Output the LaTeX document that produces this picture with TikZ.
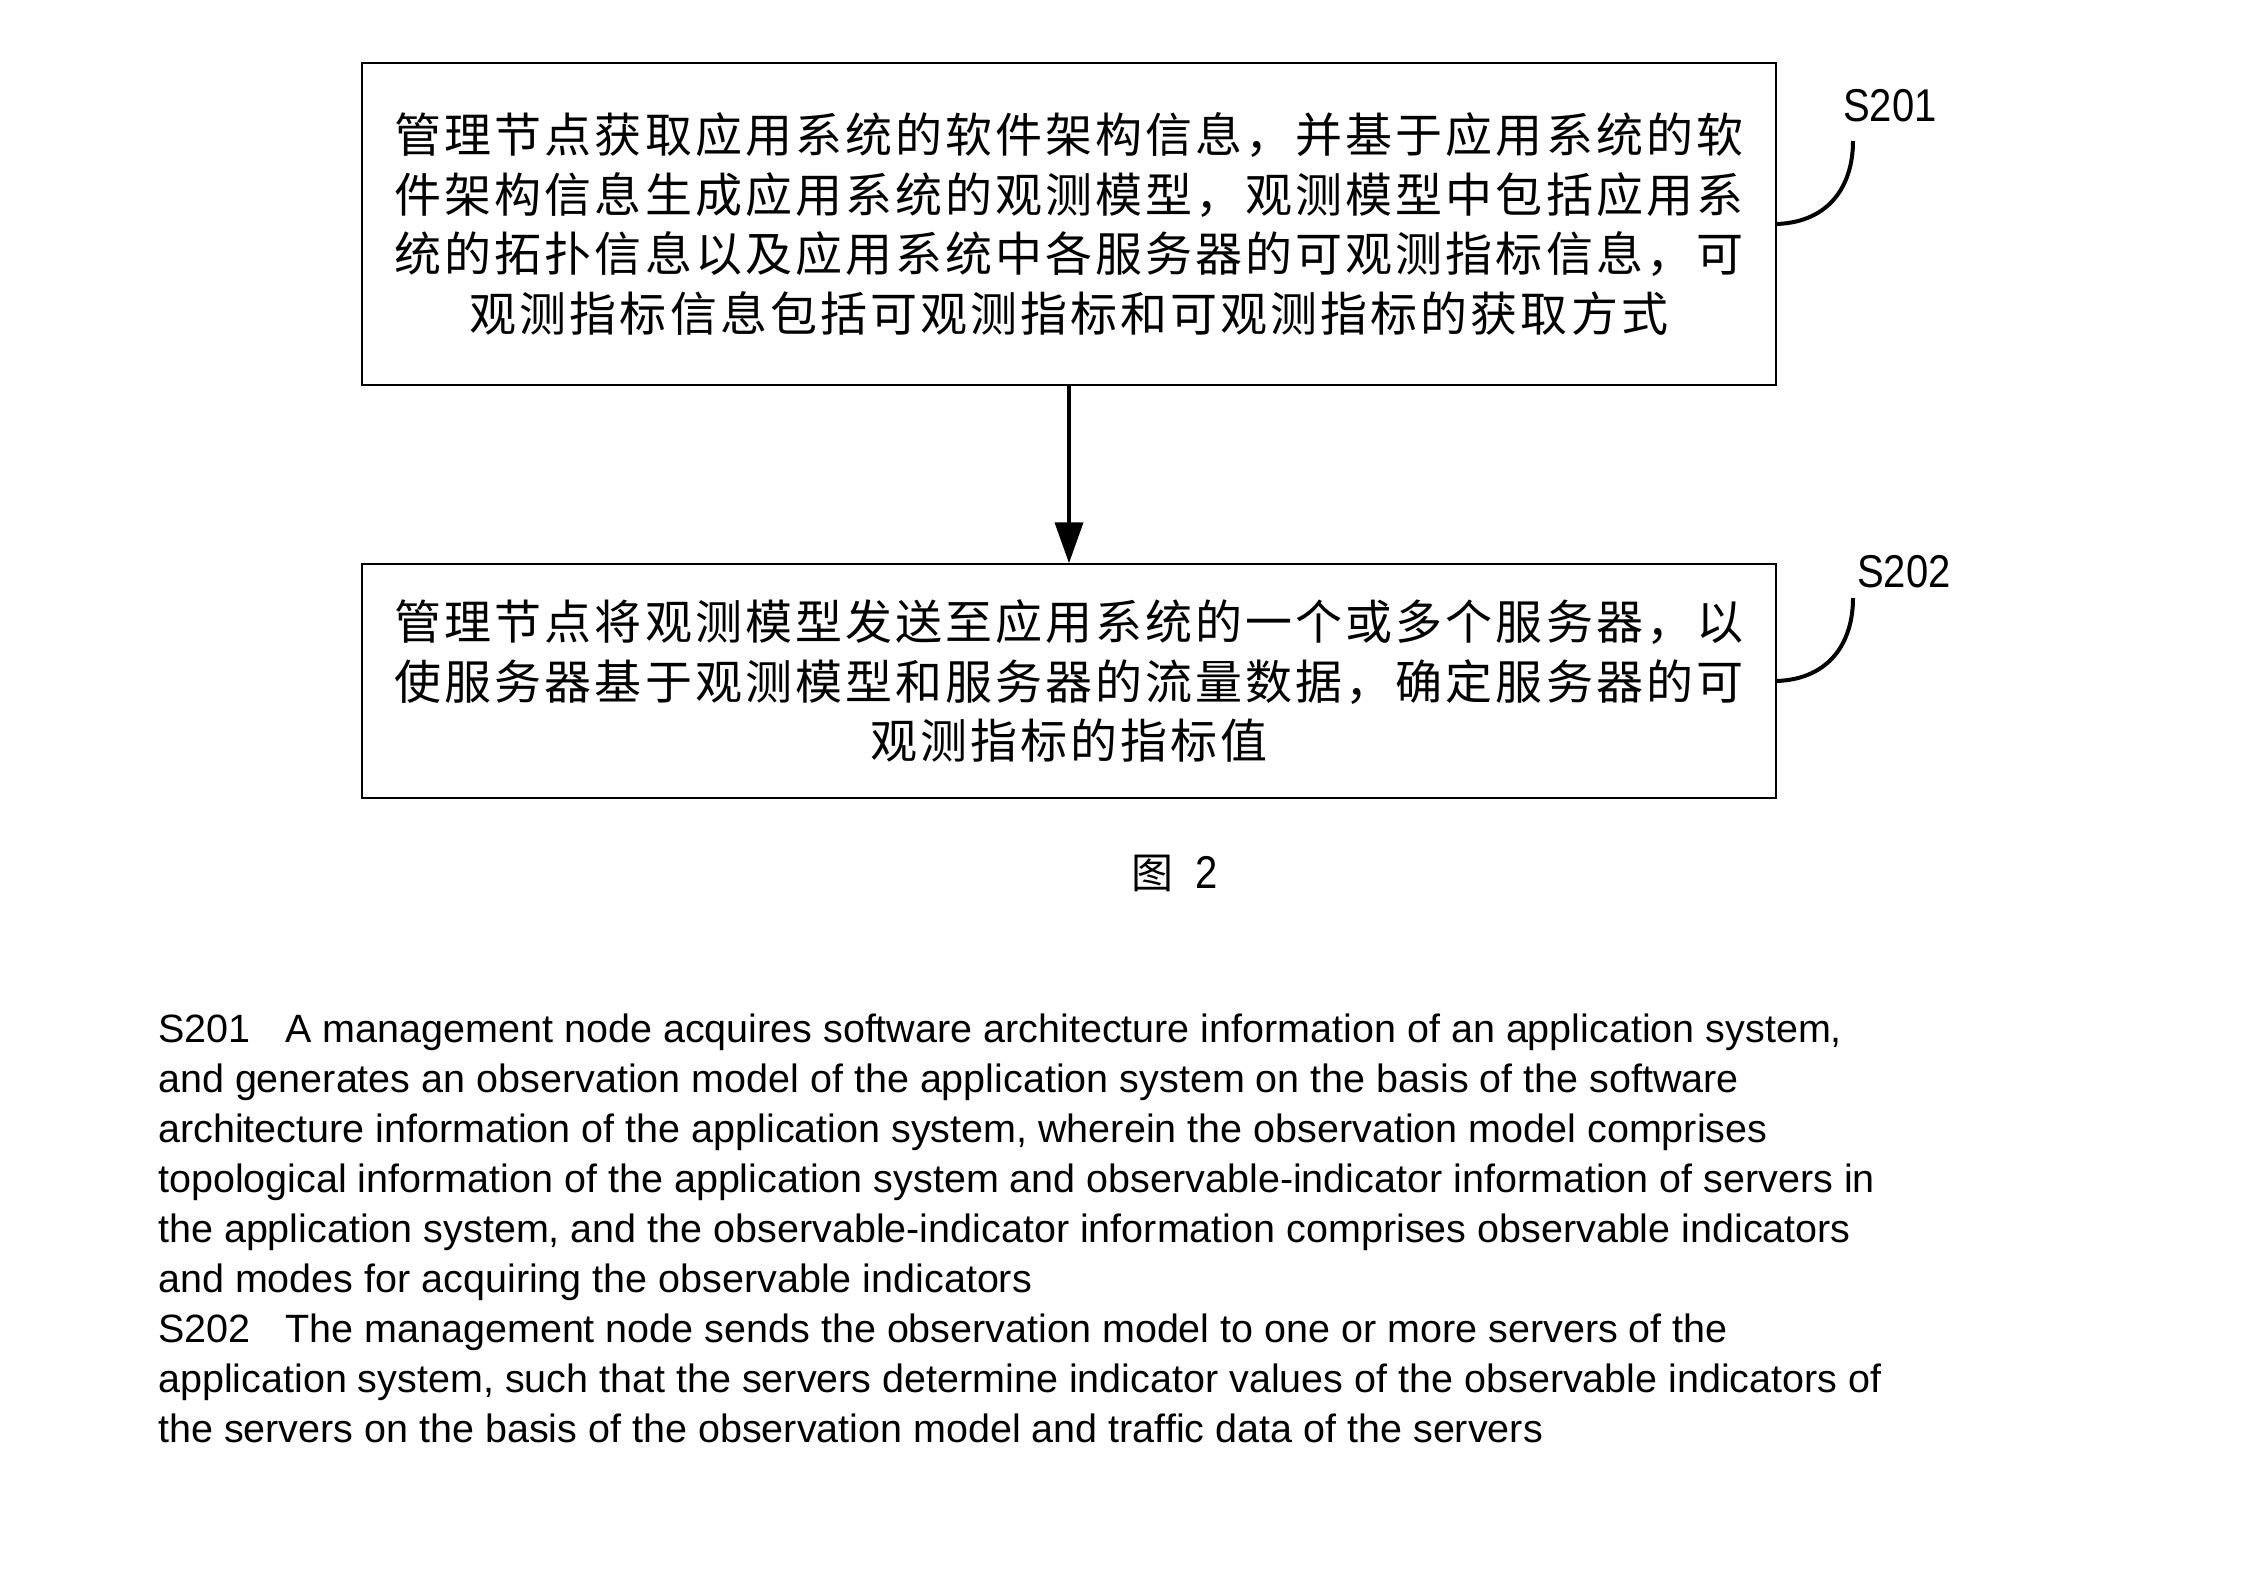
\documentclass[tikz,border=0pt]{standalone}
\usepackage{fontspec}
\setmainfont{Liberation Sans}
\newfontfamily\cjk[LetterSpace=6.5]{Noto Sans CJK SC}
\newfontfamily\cjkplain{Noto Sans CJK SC}
\newfontfamily\labfont[FakeStretch=0.87]{Liberation Sans}
\usetikzlibrary{arrows.meta}
\begin{document}
\begin{tikzpicture}[x=1pt,y=-1pt,
  stepbox/.style={draw, line width=1.5pt, minimum width=1414pt, inner sep=0pt,
    align=center, font=\cjk\fontsize{47}{59.5}\selectfont},
  steplabel/.style={font=\labfont\fontsize{46}{50}\selectfont, inner sep=0pt},
  leader/.style={line width=4pt},
  flow/.style={line width=4pt, -{Triangle[length=41pt,width=28pt]}},
  para/.style={anchor=base west, inner sep=0pt, font=\fontsize{39.5}{45}\selectfont}]
\useasboundingbox[fill=white] (0,0) rectangle (2246,1575);

\node[stepbox, minimum height=322pt] (b1) at (1069,224) {管理节点获取应用系统的软件架构信息，并基于应用系统的软\\件架构信息生成应用系统的观测模型，观测模型中包括应用系\\统的拓扑信息以及应用系统中各服务器的可观测指标信息，可\\观测指标信息包括可观测指标和可观测指标的获取方式};
\node[stepbox, minimum height=234pt] (b2) at (1069,681) {管理节点将观测模型发送至应用系统的一个或多个服务器，以\\使服务器基于观测模型和服务器的流量数据，确定服务器的可\\观测指标的指标值};

\draw[flow] (b1.south) -- (b2.north);

\node[steplabel] (l1) at (1890,106) {S201};
\node[steplabel] (l2) at (1904,572) {S202};
\coordinate (c1) at (1853,141);
\coordinate (c2) at (1853,598);
\draw[leader] (b1.east) .. controls (1830,222) and (1853,185) .. (c1);
\draw[leader] (b2.east) .. controls (1830,679) and (1853,642) .. (c2);

\node[inner sep=0pt] (cap) at (1175,873) {{\cjkplain\fontsize{42}{46}\selectfont 图}\hspace{22pt}{\labfont\fontsize{46}{50}\selectfont 2}};

\node[para] (p1) at (158,1042) {S201\hspace{35pt}A management node acquires software architecture information of an application system,};
\node[para] (p2) at (158,1092.1) {and generates an observation model of the application system on the basis of the software};
\node[para] (p3) at (158,1142.2) {architecture information of the application system, wherein the observation model comprises};
\node[para] (p4) at (158,1192.3) {topological information of the application system and observable-indicator information of servers in};
\node[para] (p5) at (158,1242.4) {the application system, and the observable-indicator information comprises observable indicators};
\node[para] (p6) at (158,1292.5) {and modes for acquiring the observable indicators};
\node[para] (p7) at (158,1342.6) {S202\hspace{35pt}The management node sends the observation model to one or more servers of the};
\node[para] (p8) at (158,1392.7) {application system, such that the servers determine indicator values of the observable indicators of};
\node[para] (p9) at (158,1442.8) {the servers on the basis of the observation model and traffic data of the servers};
\end{tikzpicture}
\end{document}
